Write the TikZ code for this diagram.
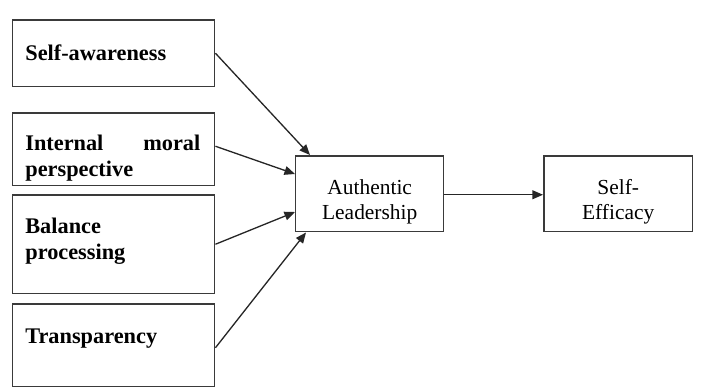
\documentclass[tikz,border=0pt]{standalone}
\usepackage{fontspec}
\setmainfont{Liberation Serif}
\usetikzlibrary{arrows.meta}
\definecolor{boxline}{HTML}{3A3A3A}

\tikzset{
  framebox/.style={draw=boxline, line width=0.85pt, anchor=north west, inner sep=0pt},
  factortext/.style={anchor=base west, inner sep=0pt, text width=3.5cm, align=left, font=\fontsize{12.7}{14.8}\selectfont\bfseries},
  maintext/.style={align=center, inner sep=0pt, font=\fontsize{12.2}{14.2}\selectfont},
  link/.style={draw=black!85, line width=0.75pt, -{Triangle[length=6pt, width=5pt]}}
}

\begin{document}
\begin{tikzpicture}[x=0.02cm, y=-0.02cm]
  \useasboundingbox (0,0) rectangle (702,387);

  % four dimensions on the left
  \node[framebox, minimum width=4.04cm, minimum height=1.34cm] (selfaw) at (12,19) {};
  \node[framebox, minimum width=4.04cm, minimum height=1.46cm] (moral) at (12,112) {};
  \node[framebox, minimum width=4.04cm, minimum height=1.98cm] (balance) at (12,194) {};
  \node[framebox, minimum width=4.04cm, minimum height=1.66cm] (transp) at (12,303) {};

  \node[factortext] (selfawtxt) at (25,60) {Self-awareness};
  \node[factortext, align=justify] (moraltxt) at (25,150) {Internal\hfill moral\\perspective};
  \node[factortext] (balancetxt) at (25,233) {Balance\\processing};
  \node[factortext] (transptxt) at (25,343) {Transparency};

  % outcome boxes
  \node[framebox, minimum width=2.96cm, minimum height=1.52cm] (auth) at (295,155) {};
  \node[framebox, minimum width=2.98cm, minimum height=1.52cm] (effic) at (543,155) {};
  \node[maintext] (authtxt) at ([yshift=-0.16cm]auth.center) {Authentic\\Leadership};
  \node[maintext] (effictxt) at ([yshift=-0.16cm]effic.center) {Self-\\Efficacy};

  % arrows
  \draw[link] (selfaw.east) -- ([xshift=0.3cm]auth.north west);
  \draw[link] ([yshift=0.06cm]moral.east) -- ([yshift=-0.38cm]auth.north west);
  \draw[link] (balance.east) -- ([yshift=-1.14cm]auth.north west);
  \draw[link] ([yshift=-0.05cm]transp.east) -- ([xshift=0.22cm]auth.south west);
  \draw[link] ([yshift=-0.02cm]auth.east) -- ([yshift=-0.02cm]effic.west);
\end{tikzpicture}
\end{document}
